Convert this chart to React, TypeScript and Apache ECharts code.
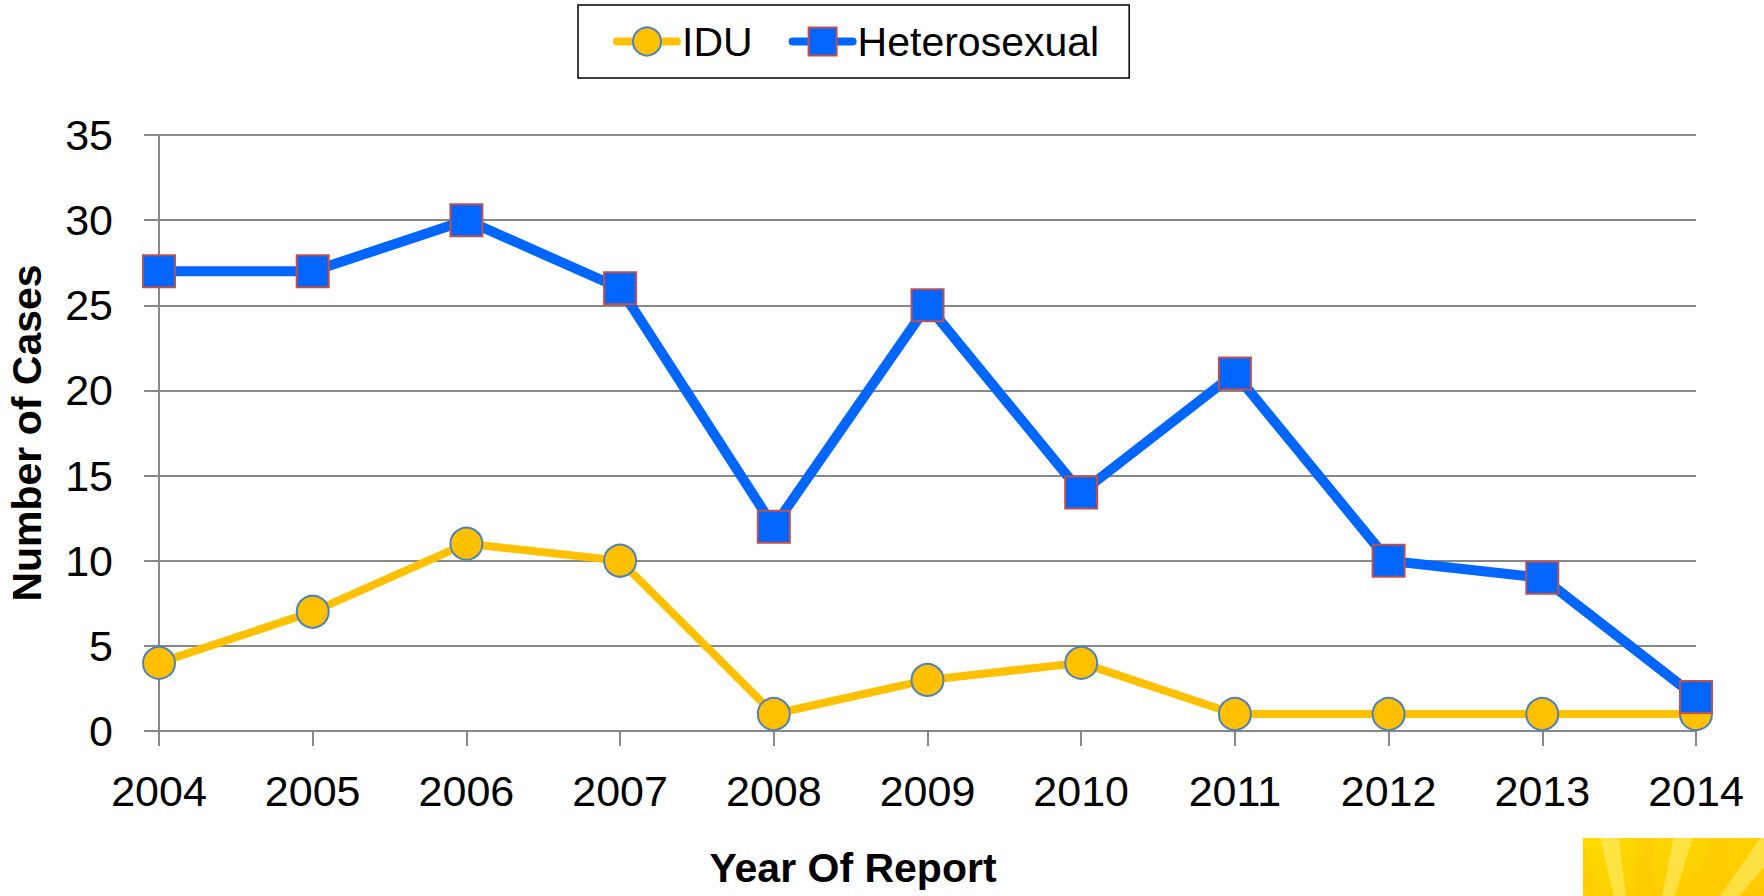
import React, { useEffect, useRef } from "react";
import * as echarts from "echarts";

const years = ["2004", "2005", "2006", "2007", "2008", "2009", "2010", "2011", "2012", "2013", "2014"];
const idu = [4, 7, 11, 10, 1, 3, 4, 1, 1, 1, 1];
const hetero = [27, 27, 30, 26, 12, 25, 14, 21, 10, 9, 2];

const FONT = "Liberation Sans";

export default function App() {
  const ref = useRef<HTMLDivElement>(null);
  useEffect(() => {
    if (!ref.current) return;
    const chart = echarts.init(ref.current, null, { renderer: "svg" });
    const rays: any[] = [];
    const cx = 1640, cy = 1010;
    const angles = [-150, -138, -125, -112, -100, -88, -76, -64, -52, -40, -28];
    angles.forEach((a, i) => {
      const r = 400;
      const a1 = ((a - 3) * Math.PI) / 180;
      const a2 = ((a + 3) * Math.PI) / 180;
      rays.push({
        type: "polygon",
        shape: { points: [[cx, cy], [cx + r * Math.cos(a1), cy + r * Math.sin(a1)], [cx + r * Math.cos(a2), cy + r * Math.sin(a2)]] },
        style: { fill: i % 2 === 0 ? "rgba(255,240,120,0.55)" : "rgba(255,200,0,0.45)" },
      });
    });
    chart.setOption({
      animation: false,
      backgroundColor: "#ffffff",
      textStyle: { fontFamily: FONT },
      grid: { left: 159, right: 68, top: 135, bottom: 165, outerBoundsMode: "none", containLabel: false },
      legend: {
        left: 578,
        top: 5,
        padding: [16, 30, 16, 35],
        borderColor: "#000",
        borderWidth: 1.5,
        itemWidth: 60,
        itemHeight: 35,
        itemGap: 36,
        lineStyle: { width: 8, cap: "round" },
        textStyle: { fontSize: 41, color: "#000", fontFamily: FONT },
        data: ["IDU", "Heterosexual"],
      },
      xAxis: {
        type: "category",
        data: years,
        boundaryGap: false,
        axisLine: { lineStyle: { color: "#888", width: 2 } },
        axisTick: { show: true, length: 15, lineStyle: { color: "#888", width: 2 } },
        axisLabel: { fontSize: 43, color: "#000", margin: 38, fontFamily: FONT },
      },
      yAxis: {
        type: "value",
        min: 0,
        max: 35,
        interval: 5,
        name: "Number of Cases",
        nameLocation: "middle",
        nameGap: 112,
        nameTextStyle: { fontSize: 41, fontWeight: "bold", color: "#000", fontFamily: FONT },
        axisLine: { show: true, lineStyle: { color: "#888", width: 2 } },
        axisTick: { show: true, length: 15, lineStyle: { color: "#888", width: 2 } },
        axisLabel: { fontSize: 43, color: "#000", margin: 46, fontFamily: FONT },
        splitLine: { lineStyle: { color: "#888", width: 2 } },
      },
      graphic: [
        {
          type: "text",
          x: 853,
          y: 868,
          style: { text: "Year Of Report", fontSize: 41, fontWeight: "bold", fill: "#000", fontFamily: FONT, align: "center", verticalAlign: "middle" },
        },
        {
          type: "group",
          clipPath: { type: "rect", shape: { x: 1583, y: 838, width: 181, height: 58 } },
          children: [
            {
              type: "rect",
              shape: { x: 1583, y: 838, width: 181, height: 58 },
              style: {
                fill: new echarts.graphic.LinearGradient(0, 0, 1, 1, [
                  { offset: 0, color: "#FFDA00" },
                  { offset: 1, color: "#FFC800" },
                ]),
              },
            },
            ...rays,
          ],
        },
      ],
      series: [
        {
          name: "IDU",
          type: "line",
          data: idu,
          symbol: "circle",
          symbolSize: 32,
          lineStyle: { color: "#FFC000", width: 8 },
          itemStyle: { color: "#FFC000", borderColor: "#4F81BD", borderWidth: 2 },
          z: 2,
        },
        {
          name: "Heterosexual",
          type: "line",
          data: hetero,
          symbol: "rect",
          symbolSize: 32,
          lineStyle: { color: "#0066FF", width: 10 },
          itemStyle: { color: "#0066FF", borderColor: "#C0504D", borderWidth: 2 },
          z: 3,
        },
      ],
    });
    return () => chart.dispose();
  }, []);
  return <div ref={ref} style={{ position: "fixed", left: 0, top: 0, width: 1764, height: 896 }} />;
}
